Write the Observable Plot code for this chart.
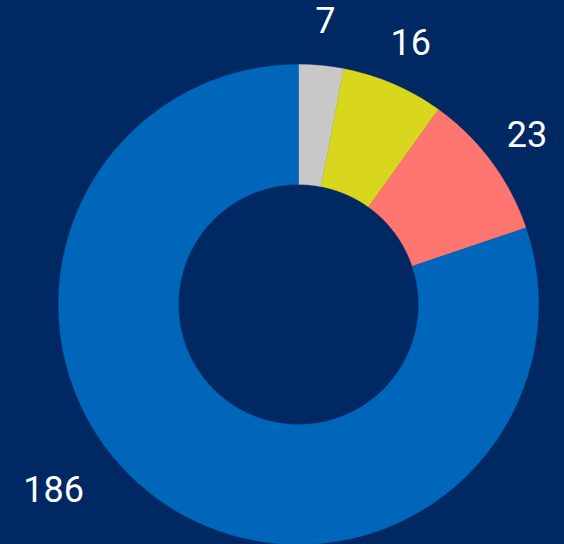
<!DOCTYPE html>
<html><head><meta charset="utf-8">
<script src="https://cdn.jsdelivr.net/npm/d3@7"></script>
<script src="https://cdn.jsdelivr.net/npm/@observablehq/plot@0.6"></script>
<style>html,body{margin:0;padding:0;background:#002862;overflow:hidden;}</style>
</head><body><div id="chart"></div>
<script>
const categories = ["Catégorie 1", "Catégorie 2", "Catégorie 3", "Catégorie 4"];
const values = [7, 16, 23, 186];
const colors = ["#c8c8c8", "#d8d71d", "#ff7670", "#0066b9"];

const W = 564, H = 544;
const cx = 298, cy = 304;          // donut centre in pixels
const innerR = 120, outerR = 240, labelR = 284, maxDrop = 186;

const data = categories.map((c, i) => ({category: c, value: values[i], color: colors[i]}));
const arcs = d3.pie().sort(null).value(d => d.value)(data);

// polygon outlines of each ring segment (up-positive coordinates)
const slices = arcs.map(a => {
  const n = Math.max(4, Math.ceil((a.endAngle - a.startAngle) / 0.004));
  const pts = [];
  for (let k = 0; k <= n; k++) {
    const t = a.startAngle + (a.endAngle - a.startAngle) * k / n;
    pts.push({x: outerR * Math.sin(t), y: outerR * Math.cos(t)});
  }
  for (let k = n; k >= 0; k--) {
    const t = a.startAngle + (a.endAngle - a.startAngle) * k / n;
    pts.push({x: innerR * Math.sin(t), y: innerR * Math.cos(t)});
  }
  pts.push(pts[0]);
  return {color: a.data.color, pts};
});

const labels = arcs.map(a => {
  const mid = (a.startAngle + a.endAngle) / 2;
  let y = labelR * Math.cos(mid);
  let x = labelR * Math.sin(mid);
  if (y < -maxDrop) { y = -maxDrop; x = Math.sign(x) * Math.sqrt(labelR * labelR - y * y); }
  return {x, y, text: String(a.data.value), left: x < 0};
});

const font = "Roboto, 'Noto Sans', sans-serif";
const chart = Plot.plot({
  width: W, height: H,
  margin: 0,
  x: {domain: [-cx, W - cx], range: [0, W], axis: null},
  y: {domain: [cy - H, cy], range: [H, 0], axis: null},
  style: {background: "#002862", overflow: "visible"},
  marks: [
    ...slices.map(s => Plot.line(s.pts, {x: "x", y: "y", fill: s.color, stroke: s.color, strokeWidth: 0.4, curve: "linear"})),
    Plot.text(labels.filter(d => !d.left), {x: "x", y: "y", text: "text", fill: "white", fontSize: 36, fontFamily: font, textAnchor: "middle", lineAnchor: "middle"}),
    Plot.text(labels.filter(d => d.left), {x: "x", y: "y", text: "text", fill: "white", fontSize: 36, fontFamily: font, textAnchor: "end", lineAnchor: "middle"})
  ]
});
document.getElementById("chart").append(chart);
</script>
</body></html>
